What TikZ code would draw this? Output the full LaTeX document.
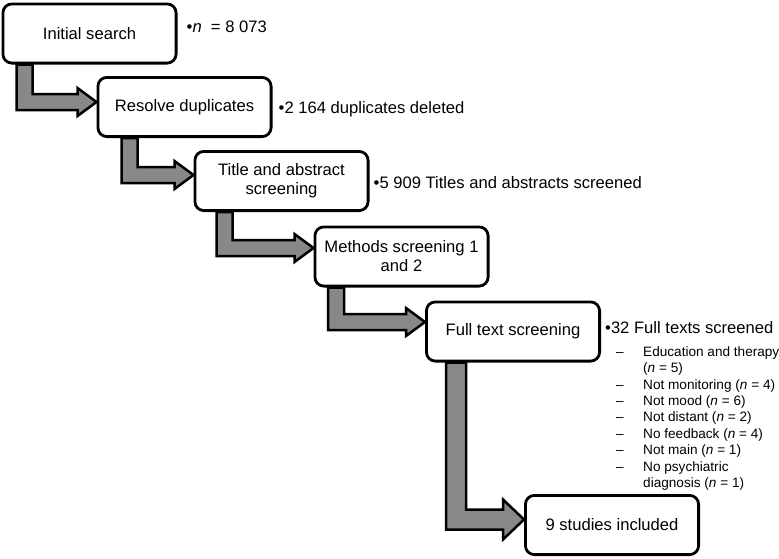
\documentclass[tikz,border=0pt]{standalone}
\usepackage{fontspec}
\setmainfont{Liberation Sans}
\usepackage{tikz}
\usetikzlibrary{positioning,calc}
\tikzstyle{flowChart} = [x = 1pt, y = -1pt]
\definecolor{arrowGray}{RGB}{136,136,136}
\tikzstyle{stageBox} = [draw, fill=white, line width = 2.8pt, rounded corners = 9pt, minimum width = 173.2pt, minimum height = 59.2pt, align=center, inner sep = 2pt, font=\fontsize{16.6}{19}\selectfont]
\tikzstyle{countText} = [anchor=west, inner sep = 0pt, text height = 11.9pt, text depth = 0pt, font=\fontsize{16.6}{19}\selectfont]
\tikzstyle{reasonText} = [anchor=north west, inner sep = 0pt, font=\fontsize{13.6}{16.4}\selectfont]
\tikzstyle{stepArrowStyle} = [draw=black, fill=arrowGray, line width = 2.5pt, line join = miter]
% #1 from, #2 to, #3 shaft offset, #4 rise, #5 half shaft, #6 half head, #7 head length
\newcommand{\stepArrow}[7]{\filldraw [stepArrowStyle] let \p1 = (#1.west), \p2 = (#1.south), \p3 = (#2.west) in
  (\x1 + #3pt - #5pt, \y2) -- (\x1 + #3pt - #5pt, \y3 + #4pt - #5pt) -- (\x3 - #7pt, \y3 + #4pt - #5pt)
  -- (\x3 - #7pt, \y3 + #4pt - #6pt) -- (\x3, \y3 + #4pt) -- (\x3 - #7pt, \y3 + #4pt + #6pt)
  -- (\x3 - #7pt, \y3 + #4pt + #5pt) -- (\x1 + #3pt + #5pt, \y3 + #4pt + #5pt) -- (\x1 + #3pt + #5pt, \y2) -- cycle;}
\newcommand{\nN}{\textit{n}}

\begin{document}
\begin{tikzpicture}[flowChart]
  \useasboundingbox (0,0) rectangle (779,558);
  \node [stageBox] (initSearch) at (89.5,33.5) {Initial search};
  \node [stageBox] (resolveDup) at (184.5,107) {Resolve duplicates};
  \node [stageBox] (titleAbstract) at (281.5,181) {Title and abstract\\screening};
  \node [stageBox] (methodsScreen) at (401.5,256.5) {Methods screening 1\\and 2};
  \node [stageBox] (fullText) at (513,331.5) {Full text screening};
  \node [stageBox] (included) at (612,525) {9 studies included};

  \node [countText, right = 9pt of initSearch, yshift = 6.5pt] (searchCount) {•\nN~~= 8 073};
  \node [countText, right = 6pt of resolveDup, yshift = -1pt] (dupCount) {•2 164 duplicates deleted};
  \node [countText, right = 4pt of titleAbstract, yshift = -2pt] (titleCount) {•5 909 Titles and abstracts screened};
  \node [countText, right = 4pt of fullText, yshift = 3.5pt] (fullTextCount) {•32 Full texts screened};
  \node [reasonText] (reasons) at ($(fullTextCount.south west) + (11,10.5)$) {%
    \begin{tabular}{@{}p{27pt}@{}l@{}}
      – & Education and therapy\\
        & (\nN{} = 5)\\
      – & Not monitoring (\nN{} = 4)\\
      – & Not mood (\nN{} = 6)\\
      – & Not distant (\nN{} = 2)\\
      – & No feedback (\nN{} = 4)\\
      – & Not main (\nN{} = 1)\\
      – & No psychiatric\\
        & diagnosis (\nN{} = 1)
    \end{tabular}};

  \stepArrow{initSearch}{resolveDup}{23}{5}{8}{14}{19}
  \stepArrow{resolveDup}{titleAbstract}{33}{6}{8}{14}{19}
  \stepArrow{titleAbstract}{methodsScreen}{31}{8.5}{8}{14}{19}
  \stepArrow{methodsScreen}{fullText}{22.6}{9.5}{8}{14}{19}
  \stepArrow{fullText}{included}{31}{5.5}{10}{20}{21}
\end{tikzpicture}
\end{document}
